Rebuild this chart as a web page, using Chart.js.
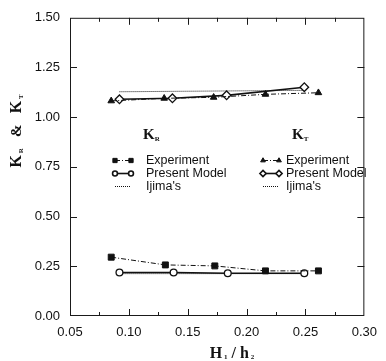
<!DOCTYPE html>
<html>
<head>
<meta charset="utf-8">
<script src="https://cdn.jsdelivr.net/npm/chart.js@4.4.0/dist/chart.umd.min.js"></script>
<style>
  body { margin: 0; background: #fff; }
  #wrap { width: 386px; height: 361px; }
</style>
</head>
<body>
<div id="wrap"><canvas id="chart" width="386" height="361"></canvas></div>
<script>
// reflection coefficient K_R vs H1/h2
const xKrExp = [0.085, 0.131, 0.173, 0.216, 0.261];
const krExp = [0.296, 0.257, 0.252, 0.227, 0.227];
const xKrModel = [0.092, 0.138, 0.184, 0.249];
const krModel = [0.219, 0.219, 0.215, 0.215];
const xKrIjima = [0.092, 0.249];
const krIjima = [0.213, 0.213];

// transmission coefficient K_T vs H1/h2
const xKtExp = [0.085, 0.130, 0.172, 0.216, 0.261];
const ktExp = [1.082, 1.095, 1.100, 1.115, 1.123];
const xKtModel = [0.092, 0.137, 0.183, 0.249];
const ktModel = [1.090, 1.095, 1.110, 1.151];
const xKtIjima = [0.092, 0.249];
const ktIjima = [1.128, 1.135];

const seriesLabels = ['Experiment', 'Present Model', "Ijima's"];
const xTicks = [0.05, 0.10, 0.15, 0.20, 0.25, 0.30];
const xMinorTicks = [0.075, 0.125, 0.175, 0.225, 0.275];
const yTicks = [0, 0.25, 0.5, 0.75, 1.0, 1.25, 1.5];

const pts = (xs, ys) => xs.map((x, i) => ({ x: x, y: ys[i] }));

const INK = '#111';
const DASHDOT = [5, 2, 1, 2];
const DOTTED = [1, 1];
const SANS = '"Liberation Sans", Arial, sans-serif';
const SERIF = '"Liberation Serif", "DejaVu Serif", serif';

function expSet(data, style, r) {
  return {
    label: seriesLabels[0], data: data, showLine: true,
    borderColor: INK, borderWidth: 1, borderDash: DASHDOT,
    pointStyle: style, pointRadius: r, pointBackgroundColor: INK,
    pointBorderColor: INK, pointBorderWidth: 1
  };
}
function modelSet(data, style, r) {
  return {
    label: seriesLabels[1], data: data, showLine: true,
    borderColor: INK, borderWidth: 1.6, borderDash: [],
    pointStyle: style, pointRadius: r, pointBackgroundColor: '#fff',
    pointBorderColor: INK, pointBorderWidth: 1.3
  };
}
function ijimaSet(data) {
  return {
    label: seriesLabels[2], data: data, showLine: true,
    borderColor: INK, borderWidth: 1, borderDash: DOTTED,
    pointRadius: 0
  };
}

// draw text made of pieces (subscripts) starting at x, baseline y
function richWidth(ctx, parts) {
  let w = 0;
  parts.forEach(p => { ctx.font = 'bold ' + p.size + 'px ' + SERIF; w += ctx.measureText(p.t).width; });
  return w;
}
function drawRich(ctx, parts, x, y) {
  parts.forEach(p => {
    ctx.font = 'bold ' + p.size + 'px ' + SERIF;
    ctx.fillText(p.t, x, y + (p.dy || 0));
    x += ctx.measureText(p.t).width;
  });
}

const decor = {
  id: 'decor',
  afterDraw(chart) {
    const { ctx, chartArea: a, scales: { x, y } } = chart;
    ctx.save();
    ctx.strokeStyle = '#1a1a1a';
    ctx.lineWidth = 1;
    ctx.setLineDash([]);
    ctx.strokeRect(a.left + 0.5, a.top + 0.5, a.right - a.left - 1, a.bottom - a.top - 1);

    ctx.beginPath();
    xTicks.slice(1, -1).forEach(v => {
      const px = Math.round(x.getPixelForValue(v)) + 0.5;
      ctx.moveTo(px, a.bottom); ctx.lineTo(px, a.bottom - 7);
      ctx.moveTo(px, a.top); ctx.lineTo(px, a.top + 7);
    });
    xMinorTicks.forEach(v => {
      const px = Math.round(x.getPixelForValue(v)) + 0.5;
      ctx.moveTo(px, a.bottom); ctx.lineTo(px, a.bottom - 4);
      ctx.moveTo(px, a.top); ctx.lineTo(px, a.top + 4);
    });
    yTicks.slice(1, -1).forEach(v => {
      const py = Math.round(y.getPixelForValue(v)) + 0.5;
      ctx.moveTo(a.left, py); ctx.lineTo(a.left + 7, py);
      ctx.moveTo(a.right, py); ctx.lineTo(a.right - 7, py);
    });
    ctx.stroke();

    // legend, two columns (K_R and K_T)
    const cols = [{ s: 115, e: 131, t: 146 }, { s: 263, e: 279, t: 286 }];
    const rows = [160, 173, 186];
    ctx.fillStyle = INK;
    ctx.textBaseline = 'middle';
    chart.data.datasets.forEach((ds, i) => {
      const c = cols[Math.floor(i / 3)];
      const ry = rows[i % 3] + 0.5;
      ctx.strokeStyle = INK;
      ctx.lineWidth = ds.borderWidth;
      ctx.setLineDash(ds.borderDash || []);
      ctx.beginPath();
      ctx.moveTo(c.s, ry); ctx.lineTo(c.e, ry);
      ctx.stroke();
      ctx.setLineDash([]);
      if (ds.pointRadius > 0) {
        [c.s, c.e].forEach(px => {
          ctx.fillStyle = ds.pointBackgroundColor;
          ctx.strokeStyle = ds.pointBorderColor;
          Chart.helpers.drawPoint(ctx, {
            pointStyle: ds.pointStyle, radius: ds.pointRadius * 0.72,
            borderWidth: ds.pointBorderWidth, rotation: 0
          }, px, ry);
        });
      }
      ctx.fillStyle = INK;
      ctx.font = '12.5px ' + SANS;
      ctx.fillText(ds.label, c.t, ry);
    });

    // K_R / K_T headers
    ctx.textBaseline = 'alphabetic';
    const kr = [{ t: 'K', size: 15 }, { t: 'R', size: 7, dy: 2 }];
    const kt = [{ t: 'K', size: 15 }, { t: 'T', size: 7, dy: 2 }];
    drawRich(ctx, kr, 143, 139);
    drawRich(ctx, kt, 292, 139);

    // x axis title
    const xt = [{ t: 'H', size: 16 }, { t: ' 1', size: 7, dy: 1 }, { t: ' / ', size: 16 },
                { t: 'h', size: 16 }, { t: ' 2', size: 7, dy: 1 }];
    drawRich(ctx, xt, 232 - richWidth(ctx, xt) / 2, 358);

    // y axis title, rotated
    const yt = [{ t: 'K', size: 16 }, { t: ' R', size: 7, dy: 2 }, { t: '   &   ', size: 15 },
                { t: 'K', size: 16 }, { t: ' T', size: 7, dy: 2 }];
    ctx.translate(21, 131);
    ctx.rotate(-Math.PI / 2);
    drawRich(ctx, yt, -richWidth(ctx, yt) / 2, 0);
    ctx.restore();
  }
};

new Chart(document.getElementById('chart'), {
  type: 'scatter',
  data: {
    datasets: [
      expSet(pts(xKrExp, krExp), 'rect', 4.2),
      modelSet(pts(xKrModel, krModel), 'circle', 3.4),
      ijimaSet(pts(xKrIjima, krIjima)),
      expSet(pts(xKtExp, ktExp), 'triangle', 3.8),
      modelSet(pts(xKtModel, ktModel), 'rectRot', 4.3),
      ijimaSet(pts(xKtIjima, ktIjima))
    ]
  },
  options: {
    responsive: false,
    animation: false,
    layout: { padding: { top: 12, right: 15, left: 0, bottom: 0 } },
    plugins: { legend: { display: false }, tooltip: { enabled: false } },
    scales: {
      x: {
        type: 'linear', min: 0.05, max: 0.30,
        afterBuildTicks: s => { s.ticks = xTicks.map(v => ({ value: v })); },
        afterFit: s => { s.height = 45; },
        grid: { display: false, drawTicks: false },
        border: { display: false },
        ticks: { padding: 9, color: INK, font: { family: SANS, size: 13 }, callback: v => v.toFixed(2), maxRotation: 0 }
      },
      y: {
        min: 0, max: 1.5,
        afterBuildTicks: s => { s.ticks = yTicks.map(v => ({ value: v })); },
        afterFit: s => { s.width = 70; },
        grid: { display: false, drawTicks: false },
        border: { display: false },
        ticks: { padding: 10, color: INK, font: { family: SANS, size: 13 }, callback: v => v.toFixed(2) }
      }
    }
  },
  plugins: [decor]
});
</script>
</body>
</html>
